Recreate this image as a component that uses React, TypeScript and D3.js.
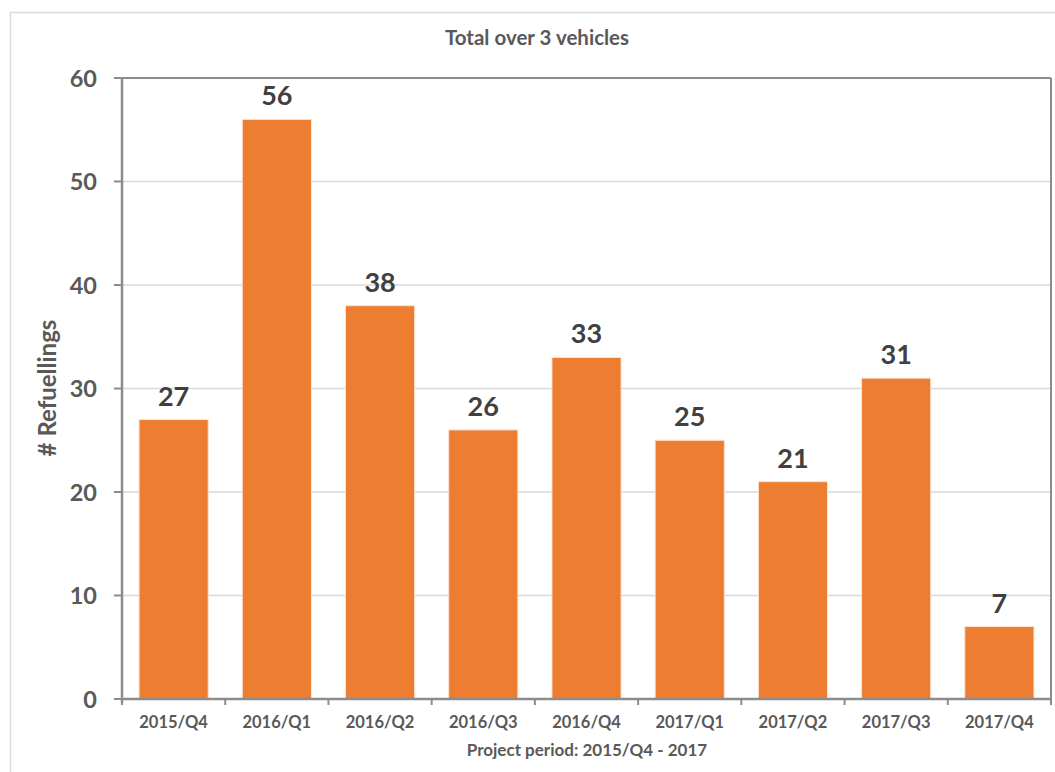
import React from "react";
import * as d3 from "d3";

const quarters = ["2015/Q4", "2016/Q1", "2016/Q2", "2016/Q3", "2016/Q4", "2017/Q1", "2017/Q2", "2017/Q3", "2017/Q4"];
const refuellings = [27, 56, 38, 26, 33, 25, 21, 31, 7];
const yTicks = [0, 10, 20, 30, 40, 50, 60];

const W = 1055;
const H = 772;
const left = 122;
const right = 1051;
const top = 78;
const bottom = 699;
const FONT = "Lato, 'Open Sans', sans-serif";

export default function App() {
  const x = d3.scaleBand<string>().domain(quarters).range([left, right]).paddingInner(0.33).paddingOuter(0.165);
  const xEdge = d3.scaleLinear().domain([0, quarters.length]).range([left, right]);
  const y = d3.scaleLinear().domain([0, 60]).range([bottom, top]);
  const axisColor = "#8c8c8c";

  return (
    <svg width={W} height={H} style={{ position: "absolute", left: 0, top: 0, background: "#fff" }}>
      {/* outer chart frame */}
      <rect x={10.5} y={12.5} width={W + 20} height={H + 20} fill="none" stroke="#d9d9d9" strokeWidth={1.5} />
      <text x={537} y={45} textAnchor="middle" fontFamily={FONT} fontWeight={700} fontSize={20.5} fill="#595959">
        Total over 3 vehicles
      </text>

      {/* gridlines */}
      {yTicks.filter((t) => t > 0 && t < 60).map((t) => (
        <line key={t} x1={left} x2={right} y1={y(t)} y2={y(t)} stroke="#d9d9d9" strokeWidth={1.5} />
      ))}

      {/* bars */}
      {refuellings.map((v, i) => (
        <g key={quarters[i]}>
          <rect
            x={x(quarters[i])}
            y={y(v)}
            width={x.bandwidth()}
            height={y(0) - y(v)}
            fill="#ED7D31"
            stroke="#fbe3d3"
            strokeWidth={1}
          />
          <text
            x={(x(quarters[i]) as number) + x.bandwidth() / 2}
            y={y(v) - 14}
            textAnchor="middle"
            fontFamily={FONT}
            fontWeight={700}
            fontSize={27}
            fill="#404040"
          >
            {v}
          </text>
        </g>
      ))}

      {/* plot frame: top and right */}
      <line x1={left} x2={right} y1={top} y2={top} stroke={axisColor} strokeWidth={2} />
      <line x1={right} x2={right} y1={top} y2={bottom} stroke={axisColor} strokeWidth={2} />

      {/* y axis */}
      <line x1={left} x2={left} y1={top} y2={bottom + 4} stroke={axisColor} strokeWidth={2.5} />
      {yTicks.map((t) => (
        <g key={t}>
          <line x1={left - 8} x2={left} y1={y(t)} y2={y(t)} stroke={axisColor} strokeWidth={2} />
          <text x={left - 25} y={y(t) + 8.5} textAnchor="end" fontFamily={FONT} fontWeight={700} fontSize={23.5} fill="#595959">
            {t}
          </text>
        </g>
      ))}
      <text
        transform={`translate(56, 388) rotate(-90)`}
        textAnchor="middle"
        fontFamily={FONT}
        fontWeight={700}
        fontSize={24}
        fill="#595959"
      >
        # Refuellings
      </text>

      {/* x axis */}
      <line x1={left} x2={right} y1={bottom} y2={bottom} stroke={axisColor} strokeWidth={2.5} />
      {d3.range(quarters.length + 1).map((i) => (
        <line key={i} x1={xEdge(i)} x2={xEdge(i)} y1={bottom} y2={bottom + 6} stroke={axisColor} strokeWidth={2} />
      ))}
      {quarters.map((q) => (
        <text
          key={q}
          x={(x(q) as number) + x.bandwidth() / 2}
          y={728}
          textAnchor="middle"
          fontFamily={FONT}
          fontWeight={700}
          fontSize={16.5}
          fill="#595959"
        >
          {q}
        </text>
      ))}
      <text x={587} y={756} textAnchor="middle" fontFamily={FONT} fontWeight={700} fontSize={17} fill="#595959">
        Project period: 2015/Q4 - 2017
      </text>
    </svg>
  );
}
